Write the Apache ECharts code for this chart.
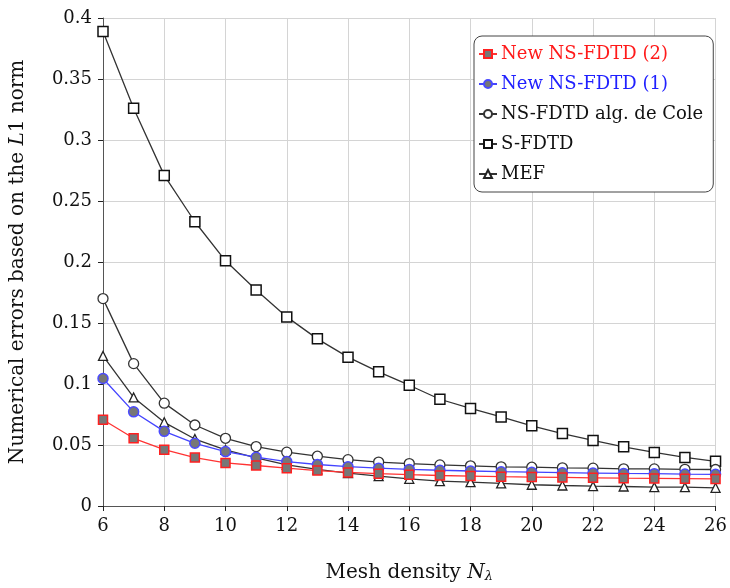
<!DOCTYPE html>
<html>
<head>
<meta charset="utf-8">
<script src="https://cdn.jsdelivr.net/npm/echarts@6/dist/echarts.min.js"></script>
<style>html,body{margin:0;padding:0;background:#fff;}#c{width:730px;height:588px;}</style>
</head>
<body>
<div id="c"></div>
<script>
const meshDensity = [6,7,8,9,10,11,12,13,14,15,16,17,18,19,20,21,22,23,24,25,26];
const newNS2 = [0.0707,0.0555,0.0462,0.0397,0.0353,0.0332,0.0310,0.0290,0.0275,0.0265,0.0257,0.0250,0.0245,0.0240,0.0237,0.0234,0.0231,0.0228,0.0226,0.0224,0.0222];
const newNS1 = [0.1045,0.0772,0.0612,0.0514,0.0446,0.0400,0.0364,0.0340,0.0322,0.0310,0.0300,0.0293,0.0287,0.0281,0.0277,0.0273,0.0270,0.0267,0.0265,0.0262,0.0260];
const nsCole = [0.170,0.1167,0.0843,0.0664,0.0555,0.0487,0.0441,0.0408,0.0380,0.0360,0.0348,0.0337,0.0329,0.0321,0.0318,0.0313,0.0310,0.0305,0.0304,0.0301,0.0299];
const sFDTD = [0.389,0.326,0.271,0.233,0.201,0.177,0.155,0.137,0.122,0.110,0.099,0.0875,0.080,0.073,0.0657,0.0594,0.0537,0.0485,0.0439,0.0398,0.0366];
const mef = [0.123,0.089,0.0686,0.0549,0.0460,0.0394,0.0337,0.0300,0.0270,0.0245,0.0223,0.0204,0.0196,0.0185,0.0174,0.0168,0.0163,0.0160,0.0155,0.0155,0.0149];
const yTicks = [0,0.05,0.1,0.15,0.2,0.25,0.3,0.35,0.4];

const FONT = 'DejaVu Serif';
const pair = arr => meshDensity.map((x,i)=>[x,arr[i]]);

const chart = echarts.init(document.getElementById('c'));
chart.setOption({
  animation:false,
  backgroundColor:'#fff',
  textStyle:{fontFamily:FONT},
  grid:{left:103,right:13,top:18,bottom:81,containLabel:false},
  legend:{
    orient:'vertical',
    left:474, top:36,
    padding:[9,10,9,4],
    itemGap:12,
    itemWidth:18, itemHeight:10,
    backgroundColor:'#fff',
    borderColor:'#444', borderWidth:1, borderRadius:8,
    textStyle:{fontFamily:FONT,fontSize:18,color:'#111',padding:[0,0,0,-1]},
    data:[
      {name:'New NS-FDTD (2)',textStyle:{color:'#ff1a1a'}},
      {name:'New NS-FDTD (1)',textStyle:{color:'#2020ff'}},
      {name:'NS-FDTD alg. de Cole'},
      {name:'S-FDTD'},
      {name:'MEF'}
    ]
  },
  xAxis:{
    type:'value', min:6, max:26, interval:2,
    name:'{a|Mesh density }{b|N}{c|λ}',
    nameLocation:'middle', nameGap:56,
    nameTextStyle:{rich:{
      a:{fontFamily:FONT,fontSize:20,color:'#111'},
      b:{fontFamily:FONT,fontSize:20,fontStyle:'italic',color:'#111'},
      c:{fontFamily:FONT,fontSize:13,fontStyle:'italic',color:'#111',padding:[8,0,0,0]}
    }},
    axisLine:{show:true,onZero:false,lineStyle:{color:'#555',width:1}},
    axisTick:{show:true,inside:false,length:5,lineStyle:{color:'#222'}},
    axisLabel:{fontFamily:FONT,fontSize:18,color:'#111',margin:11},
    splitLine:{show:true,lineStyle:{color:'#d4d4d4',width:1}}
  },
  yAxis:{
    type:'value', min:0, max:0.4, interval:0.05,
    name:'{a|Numerical errors based on the }{b|L}{a|1 norm}',
    nameLocation:'middle', nameGap:75, nameRotate:90,
    nameTextStyle:{rich:{
      a:{fontFamily:FONT,fontSize:20,color:'#111'},
      b:{fontFamily:FONT,fontSize:20,fontStyle:'italic',color:'#111'}
    }},
    axisLine:{show:true,onZero:false,lineStyle:{color:'#555',width:1}},
    axisTick:{show:true,inside:false,length:5,lineStyle:{color:'#222'}},
    axisLabel:{fontFamily:FONT,fontSize:18,color:'#111',margin:11,
      formatter:v=>{const t=yTicks.find(k=>Math.abs(k-v)<1e-9);return t===undefined?'':String(t);}},
    splitLine:{show:true,lineStyle:{color:'#d4d4d4',width:1}}
  },
  series:[
    {name:'S-FDTD',type:'line',data:pair(sFDTD),symbol:'rect',symbolSize:10,
     lineStyle:{color:'#333',width:1.3},itemStyle:{color:'#fff',borderColor:'#111',borderWidth:1.5},z:3},
    {name:'NS-FDTD alg. de Cole',type:'line',data:pair(nsCole),symbol:'circle',symbolSize:10,
     lineStyle:{color:'#333',width:1.3},itemStyle:{color:'#fff',borderColor:'#333',borderWidth:1.3},z:4},
    {name:'MEF',type:'line',data:pair(mef),symbol:'triangle',symbolSize:9,
     lineStyle:{color:'#333',width:1.3},itemStyle:{color:'#fff',borderColor:'#222',borderWidth:1.3},z:5},
    {name:'New NS-FDTD (1)',type:'line',data:pair(newNS1),symbol:'circle',symbolSize:10,
     lineStyle:{color:'#4444ff',width:1.3},itemStyle:{color:'#777',borderColor:'#4a4aff',borderWidth:1.5},z:6},
    {name:'New NS-FDTD (2)',type:'line',data:pair(newNS2),symbol:'rect',symbolSize:9,
     lineStyle:{color:'#ff3333',width:1.3},itemStyle:{color:'#777',borderColor:'#ff2020',borderWidth:1.5},z:7}
  ]
});
</script>
</body>
</html>
